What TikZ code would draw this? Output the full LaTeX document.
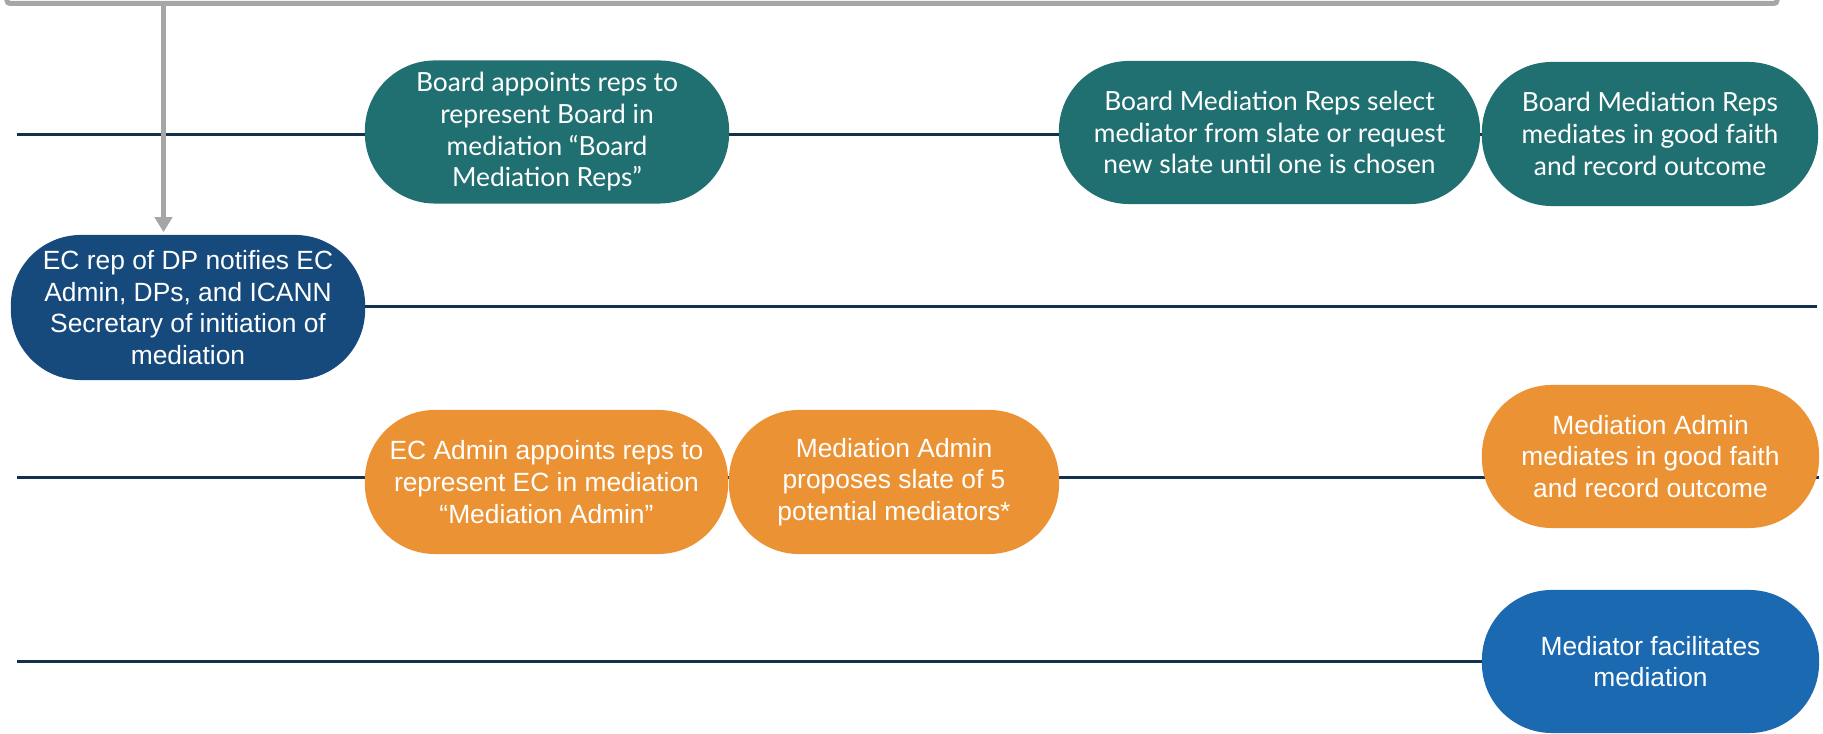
\documentclass[tikz,border=0pt]{standalone}
\usepackage{fontspec}
\setmainfont{Liberation Sans}
\newfontfamily\tealfont{Lato}
\usetikzlibrary{arrows.meta}
\definecolor{tealc}{HTML}{206F71}
\definecolor{navyc}{HTML}{174A7C}
\definecolor{orangec}{HTML}{EB9334}
\definecolor{bluec}{HTML}{1B69B0}
\definecolor{linec}{HTML}{13304F}
\definecolor{grayc}{HTML}{A6A6A6}
\begin{document}
\begin{tikzpicture}[x=0.01cm,y=-0.01cm,
  pill/.style={rounded corners=0.7cm, text=white, align=center, inner sep=0pt,
    minimum height=1.43cm, font=\fontsize{7.5}{9}\selectfont},
  tealpill/.style={pill, fill=tealc, font=\tealfont\fontsize{7.5}{9}\selectfont},
  navypill/.style={pill, fill=navyc},
  orangepill/.style={pill, fill=orangec},
  bluepill/.style={pill, fill=bluec},
  rowline/.style={draw=linec, line width=0.03cm},
  framel/.style={draw=grayc, line width=0.05cm},
  arr/.style={framel, -{Triangle[width=0.17cm,length=0.15cm]}, shorten >=0.02cm}]
\useasboundingbox (0,0) rectangle (1823,734);
% top frame
\coordinate (f1) at (7,-30);
\coordinate (f2) at (7,3.5);
\coordinate (f3) at (1777,3.5);
\coordinate (f4) at (1777,-30);
\draw[framel, rounded corners=0.03cm] (f1) -- (f2) -- (f3) -- (f4);
% row lines
\coordinate (r1s) at (17,135);  \coordinate (r1e) at (1817,135);
\coordinate (r2s) at (17,307);  \coordinate (r2e) at (1817,307);
\coordinate (r3s) at (17,478);  \coordinate (r3e) at (1819,478);
\coordinate (r4s) at (17,662);  \coordinate (r4e) at (1700,662);
\draw[rowline] (r1s) -- (r1e);
\draw[rowline] (r2s) -- (r2e);
\draw[rowline] (r3s) -- (r3e);
\draw[rowline] (r4s) -- (r4e);
% nodes
\node[tealpill, minimum width=3.64cm] (b1) at (547,132)
  {Board appoints reps to\\represent Board in\\mediation “Board\\Mediation Reps”};
\node[tealpill, minimum width=4.21cm] (b2) at (1269.5,132.5)
  {Board Mediation Reps select\\mediator from slate or request\\new slate until one is chosen};
\node[tealpill, minimum width=3.36cm, minimum height=1.44cm] (b3) at (1650,134)
  {Board Mediation Reps\\mediates in good faith\\and record outcome};
\node[navypill, minimum width=3.54cm, minimum height=1.45cm] (ec) at (188,307.5)
  {EC rep of DP notifies EC\\Admin, DPs, and ICANN\\Secretary of initiation of\\mediation};
\node[orangepill, minimum width=3.63cm, minimum height=1.44cm] (o1) at (546.5,482)
  {EC Admin appoints reps to\\represent EC in mediation\\“Mediation Admin”};
\node[orangepill, minimum width=3.30cm, minimum height=1.44cm] (o2) at (894,482)
  {Mediation Admin\\proposes slate of 5\\potential mediators*};
\node[orangepill, minimum width=3.37cm] (o3) at (1650.5,456.5)
  {Mediation Admin\\mediates in good faith\\and record outcome};
\node[bluepill, minimum width=3.37cm] (m1) at (1650.5,661.5)
  {Mediator facilitates\\mediation};
% arrow
\coordinate (at) at (163.5,3.5);
\draw[arr] (at) -- (at |- ec.north);
\end{tikzpicture}
\end{document}
